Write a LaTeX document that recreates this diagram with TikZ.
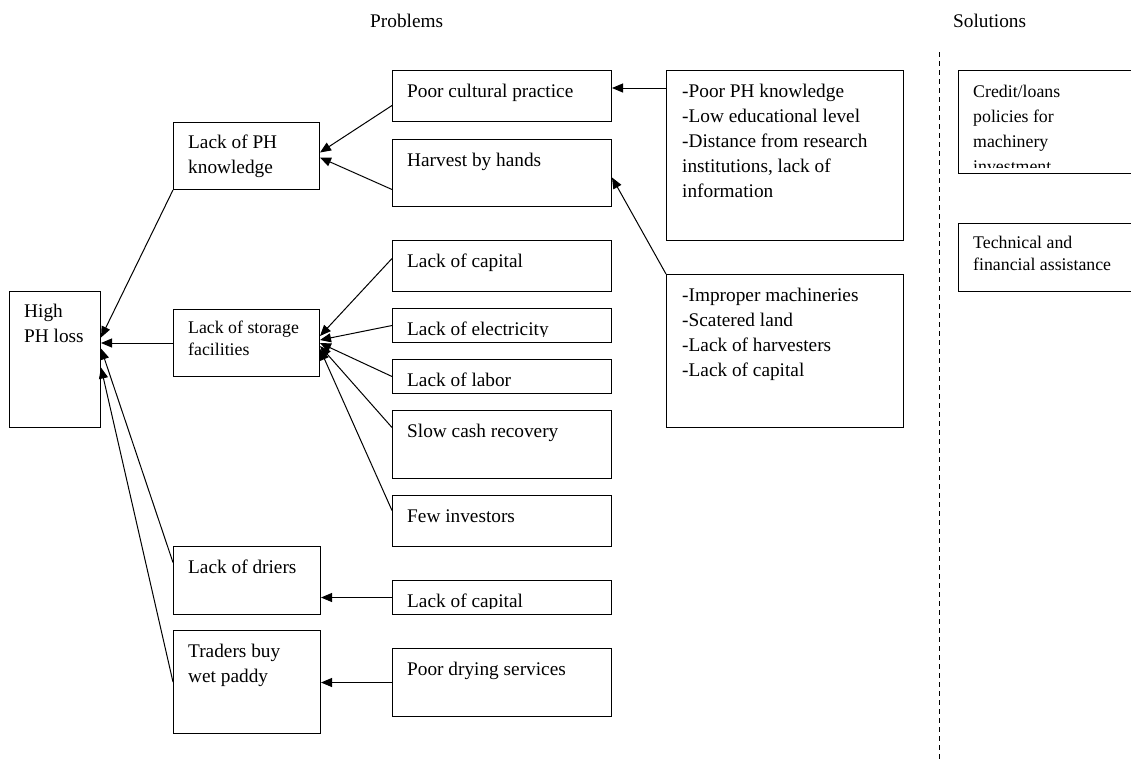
\documentclass[tikz,border=0pt]{standalone}
\usepackage{fontspec}
\setmainfont{Liberation Serif}
\usetikzlibrary{arrows.meta, calc}
\newcommand{\probfont}{\fontsize{19.3pt}{25pt}\selectfont}
\newcommand{\probsmall}{\fontsize{17.8pt}{22.5pt}\selectfont}
\newcommand{\credfont}{\fontsize{17.8pt}{25pt}\selectfont}

\begin{document}
\begin{tikzpicture}[x=1pt, y=-1pt,
    box/.style={draw, line width=1pt, anchor=north west, inner sep=0pt},
    txt/.style={anchor=base west, inner sep=0pt, font=\probfont},
    stxt/.style={txt, font=\probsmall},
    arr/.style={-{Triangle[length=11pt,width=9pt]}, line width=1pt}]
                \useasboundingbox (0,0) rectangle (1131,761);
                \clip (0,0) rectangle (1131,761);
                \node[txt] (prob) at (370,27.7) {Problems};
                \node[txt] (sol) at (953,27.7) {Solutions};
                \draw[dash pattern=on 5pt off 4pt, line width=0.8pt] (939,52) -- (939,761);

                \node[box, minimum width=91pt, minimum height=136pt] (high) at (9,291) {};
                \node[txt] (high-t) at ([shift={(15pt,-26pt)}]high.north west) {\parbox[t]{200pt}{High\\PH loss}};

                \node[box, minimum width=146pt, minimum height=67pt] (know) at (173,122) {};
                \node[txt] (know-t) at ([shift={(15pt,-26pt)}]know.north west) {\parbox[t]{200pt}{Lack of PH\\knowledge}};
                \node[box, minimum width=146pt, minimum height=67pt] (store) at (173,309) {};
                \node[stxt] (store-t) at ([shift={(15pt,-24pt)}]store.north west) {\parbox[t]{200pt}{Lack of storage\\facilities}};
                \node[box, minimum width=147pt, minimum height=68pt] (drier) at (173,546) {};
                \node[txt] (drier-t) at ([shift={(15pt,-27pt)}]drier.north west) {Lack of driers};
                \node[box, minimum width=147pt, minimum height=103pt] (trader) at (173,630) {};
                \node[txt] (trader-t) at ([shift={(15pt,-27pt)}]trader.north west) {\parbox[t]{200pt}{Traders buy\\wet paddy}};

                \node[box, minimum width=219pt, minimum height=51pt] (cult) at (392,70) {};
                \node[txt] (cult-t) at ([shift={(15pt,-27pt)}]cult.north west) {Poor cultural practice};
                \node[box, minimum width=219pt, minimum height=67pt] (hand) at (392,139) {};
                \node[txt] (hand-t) at ([shift={(15pt,-27pt)}]hand.north west) {Harvest by hands};
                \node[box, minimum width=219pt, minimum height=51pt] (cap) at (392,240) {};
                \node[txt] (cap-t) at ([shift={(15pt,-27pt)}]cap.north west) {Lack of capital};
                \node[box, minimum width=219pt, minimum height=34pt] (elec) at (392,308) {};
                \begin{scope}
                    \clip (elec.north west) rectangle ([yshift=7pt]elec.south east);
                    \node[txt] (elec-t) at ([shift={(15pt,-27pt)}]elec.north west) {Lack of electricity};
                \end{scope}
                \node[box, minimum width=219pt, minimum height=34pt] (labor) at (392,359) {};
                \node[txt] (labor-t) at ([shift={(15pt,-27pt)}]labor.north west) {Lack of labor};
                \node[box, minimum width=219pt, minimum height=68pt] (cash) at (392,410) {};
                \node[txt] (cash-t) at ([shift={(15pt,-27pt)}]cash.north west) {Slow cash recovery};
                \node[box, minimum width=219pt, minimum height=51pt] (invest) at (392,495) {};
                \node[txt] (invest-t) at ([shift={(15pt,-27pt)}]invest.north west) {Few investors};
                \node[box, minimum width=219pt, minimum height=34pt] (capb) at (392,580) {};
                \begin{scope}
                    \clip (capb.north west) rectangle ([yshift=7pt]capb.south east);
                    \node[txt] (capb-t) at ([shift={(15pt,-27pt)}]capb.north west) {Lack of capital};
                \end{scope}
                \node[box, minimum width=219pt, minimum height=68pt] (dry) at (392,648) {};
                \node[txt] (dry-t) at ([shift={(15pt,-27pt)}]dry.north west) {Poor drying services};

                \node[box, minimum width=237pt, minimum height=170pt] (knowc) at (666,70) {};
                \node[txt] (knowc-t) at ([shift={(16pt,-27pt)}]knowc.north west) {\parbox[t]{230pt}{-Poor PH knowledge\\-Low educational level\\-Distance from research\\institutions, lack of\\information}};
                \node[box, minimum width=237pt, minimum height=153pt] (mach) at (666,274) {};
                \node[txt] (mach-t) at ([shift={(16pt,-27pt)}]mach.north west) {\parbox[t]{230pt}{-Improper machineries\\-Scatered land\\-Lack of harvesters\\-Lack of capital}};

                \node[box, minimum width=190pt, minimum height=103pt] (credit) at (958,70) {};
                \begin{scope}
                    \clip (credit.north west) rectangle ([yshift=7pt]credit.south east);
                    \node[txt, font=\credfont] (credit-t) at ([shift={(15pt,-27pt)}]credit.north west) {\parbox[t]{200pt}{Credit/loans\\policies for\\machinery\\investment}};
                \end{scope}
                \node[box, minimum width=190pt, minimum height=68pt] (tech) at (958,223) {};
                \node[stxt] (tech-t) at ([shift={(15pt,-25pt)}]tech.north west) {\parbox[t]{200pt}{Technical and\\financial assistance}};

                \draw[arr] (know.south west) -- ([yshift=22pt]high.east);
                \draw[arr] (store.west) -- (store.west -| high.east);
                \draw[arr] ([yshift=18pt]drier.west) -- ([yshift=11pt]high.east);
                \draw[arr] (trader.west) -- ([yshift=-8pt]high.east);

                \draw[arr] ([yshift=-9.5pt]cult.west) -- ([yshift=3.5pt]know.east);
                \draw[arr] ([yshift=-16.5pt]hand.west) -- ([yshift=-1.5pt]know.east);

                \draw[arr] ([yshift=7.5pt]cap.west) -- ([yshift=7pt]store.east);
                \draw[arr] (elec.west) -- ([yshift=3pt]store.east);
                \draw[arr] (labor.west) -- (store.east);
                \draw[arr] ([yshift=17pt]cash.west) -- ([yshift=-3pt]store.east);
                \draw[arr] ([yshift=10.5pt]invest.west) -- ([yshift=-6pt]store.east);

                \draw[arr] (capb.west) -- (capb.west -| drier.east);
                \draw[arr] (dry.west) -- (dry.west -| trader.east);

                \draw[arr] ([yshift=-18pt]knowc.north west) -- ([yshift=-18pt]knowc.north west -| cult.east);
                \draw[arr] (mach.north west) -- ([yshift=-4.5pt]hand.east);
            \end{tikzpicture}
\end{document}
